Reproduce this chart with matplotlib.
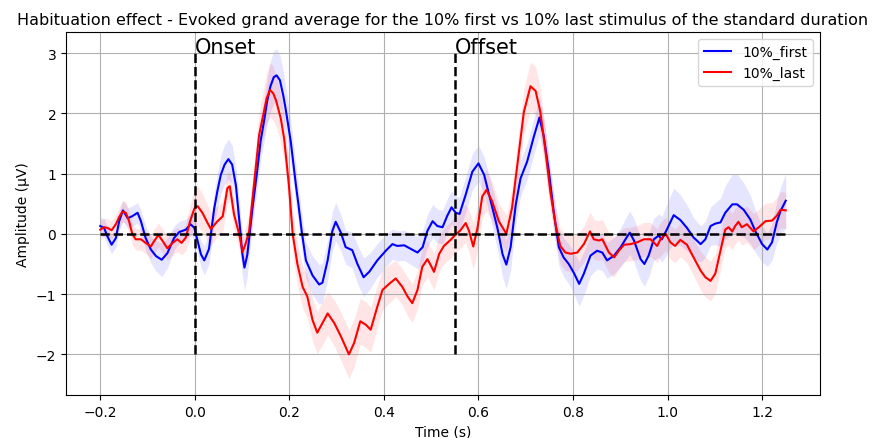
import matplotlib
matplotlib.use('Agg')
import matplotlib.pyplot as plt
import numpy as np

# grand average, 10% first stimuli (blue)
t_first = [-0.200, -0.192, -0.185, -0.176, -0.167, -0.160, -0.152, -0.142, -0.133, -0.121,
           -0.114, -0.104, -0.093, -0.082, -0.070, -0.058, -0.044, -0.033, -0.019, -0.009,
           -0.001, 0.006, 0.013, 0.020, 0.030, 0.041, 0.048, 0.055, 0.063, 0.071,
           0.079, 0.087, 0.095, 0.100, 0.105, 0.111, 0.116, 0.122, 0.126, 0.132,
           0.139, 0.146, 0.153, 0.160, 0.167, 0.173, 0.180, 0.187, 0.192, 0.203,
           0.208, 0.214, 0.219, 0.226, 0.235, 0.249, 0.263, 0.270, 0.281, 0.291,
           0.298, 0.309, 0.319, 0.333, 0.344, 0.357, 0.369, 0.386, 0.404, 0.418,
           0.428, 0.443, 0.457, 0.471, 0.482, 0.492, 0.503, 0.513, 0.524, 0.534,
           0.543, 0.552, 0.560, 0.573, 0.587, 0.600, 0.612, 0.626, 0.640, 0.651,
           0.659, 0.668, 0.679, 0.689, 0.703, 0.717, 0.729, 0.738, 0.749, 0.759,
           0.770, 0.780, 0.791, 0.802, 0.813, 0.823, 0.837, 0.851, 0.862, 0.872,
           0.887, 0.901, 0.911, 0.920, 0.929, 0.943, 0.951, 0.960, 0.971, 0.981,
           0.988, 0.999, 1.013, 1.027, 1.041, 1.055, 1.070, 1.080, 1.091, 1.101,
           1.112, 1.122, 1.137, 1.147, 1.161, 1.175, 1.186, 1.200, 1.211, 1.221,
           1.231, 1.239, 1.250]
first_mean = [0.13, 0.10, -0.04, -0.18, -0.07, 0.21, 0.39, 0.26, 0.29, 0.35,
              0.21, -0.07, -0.26, -0.37, -0.43, -0.32, -0.07, 0.03, 0.07, 0.16,
              0.10, -0.12, -0.34, -0.44, -0.25, 0.42, 0.72, 0.98, 1.15, 1.24,
              1.15, 0.80, 0.15, -0.30, -0.56, -0.35, 0.00, 0.43, 0.68, 1.05,
              1.53, 1.85, 2.20, 2.45, 2.60, 2.63, 2.55, 2.30, 2.08, 1.53,
              1.20, 0.80, 0.50, 0.05, -0.44, -0.69, -0.84, -0.81, -0.44, 0.05,
              0.20, 0.02, -0.22, -0.27, -0.50, -0.72, -0.63, -0.44, -0.28, -0.17,
              -0.20, -0.19, -0.25, -0.31, -0.22, 0.05, 0.21, 0.13, 0.11, 0.30,
              0.44, 0.35, 0.33, 0.65, 1.03, 1.17, 0.98, 0.54, 0.10, -0.34,
              -0.51, -0.22, 0.49, 0.92, 1.20, 1.61, 1.93, 1.63, 1.03, 0.38,
              -0.22, -0.39, -0.50, -0.65, -0.83, -0.66, -0.36, -0.28, -0.31, -0.44,
              -0.36, -0.22, -0.09, 0.02, -0.11, -0.42, -0.50, -0.36, -0.09, -0.03,
              -0.09, 0.08, 0.31, 0.23, 0.10, -0.06, -0.17, -0.09, 0.13, 0.17,
              0.19, 0.35, 0.49, 0.49, 0.40, 0.24, 0.04, -0.17, -0.26, -0.14,
              0.19, 0.38, 0.55]
first_sem = [0.15, 0.15, 0.15, 0.15, 0.15, 0.16, 0.17, 0.17, 0.17, 0.17,
             0.18, 0.20, 0.22, 0.25, 0.28, 0.25, 0.20, 0.18, 0.17, 0.18,
             0.20, 0.20, 0.22, 0.24, 0.25, 0.27, 0.30, 0.32, 0.33, 0.33,
             0.32, 0.30, 0.32, 0.35, 0.38, 0.35, 0.32, 0.30, 0.30, 0.30,
             0.32, 0.35, 0.38, 0.42, 0.44, 0.44, 0.42, 0.40, 0.38, 0.35,
             0.33, 0.32, 0.30, 0.30, 0.30, 0.32, 0.33, 0.33, 0.33, 0.33,
             0.32, 0.30, 0.28, 0.30, 0.32, 0.32, 0.30, 0.28, 0.27, 0.25,
             0.25, 0.25, 0.26, 0.27, 0.27, 0.27, 0.28, 0.28, 0.28, 0.28,
             0.28, 0.28, 0.28, 0.30, 0.30, 0.30, 0.30, 0.32, 0.35, 0.38,
             0.40, 0.38, 0.33, 0.30, 0.30, 0.30, 0.30, 0.30, 0.30, 0.30,
             0.30, 0.32, 0.33, 0.35, 0.37, 0.36, 0.33, 0.30, 0.30, 0.30,
             0.30, 0.32, 0.35, 0.36, 0.36, 0.36, 0.37, 0.36, 0.35, 0.36,
             0.38, 0.42, 0.45, 0.42, 0.38, 0.33, 0.30, 0.30, 0.32, 0.35,
             0.40, 0.45, 0.50, 0.50, 0.45, 0.40, 0.35, 0.30, 0.28, 0.30,
             0.35, 0.40, 0.45]

# grand average, 10% last stimuli (red)
t_last = [-0.200, -0.192, -0.185, -0.176, -0.167, -0.160, -0.153, -0.146, -0.139, -0.132,
          -0.125, -0.114, -0.104, -0.093, -0.086, -0.077, -0.068, -0.058, -0.047, -0.037,
          -0.028, -0.019, -0.010, -0.001, 0.006, 0.016, 0.027, 0.034, 0.048, 0.059,
          0.069, 0.074, 0.083, 0.094, 0.101, 0.108, 0.115, 0.125, 0.136, 0.146,
          0.152, 0.159, 0.166, 0.172, 0.182, 0.189, 0.199, 0.207, 0.217, 0.228,
          0.238, 0.249, 0.259, 0.270, 0.281, 0.295, 0.309, 0.326, 0.337, 0.350,
          0.362, 0.372, 0.386, 0.397, 0.411, 0.425, 0.439, 0.450, 0.460, 0.471,
          0.481, 0.492, 0.499, 0.506, 0.517, 0.527, 0.541, 0.552, 0.562, 0.573,
          0.580, 0.589, 0.598, 0.608, 0.617, 0.629, 0.643, 0.659, 0.671, 0.683,
          0.696, 0.710, 0.721, 0.731, 0.742, 0.752, 0.763, 0.773, 0.784, 0.795,
          0.809, 0.823, 0.836, 0.844, 0.855, 0.862, 0.876, 0.887, 0.897, 0.908,
          0.922, 0.936, 0.950, 0.964, 0.978, 0.985, 0.996, 1.006, 1.016, 1.027,
          1.041, 1.055, 1.070, 1.080, 1.091, 1.101, 1.112, 1.122, 1.129, 1.137,
          1.143, 1.150, 1.157, 1.168, 1.182, 1.196, 1.207, 1.221, 1.231, 1.239,
          1.250]
last_mean = [0.07, 0.11, 0.10, 0.06, 0.16, 0.28, 0.37, 0.35, 0.21, -0.01,
             -0.09, -0.09, -0.15, -0.21, -0.12, -0.02, -0.12, -0.24, -0.15, -0.09,
             -0.15, -0.06, 0.21, 0.42, 0.46, 0.35, 0.18, 0.08, 0.21, 0.29,
             0.76, 0.79, 0.32, -0.01, -0.30, -0.15, 0.05, 0.80, 1.64, 2.02,
             2.25, 2.39, 2.33, 2.21, 1.91, 1.58, 0.81, 0.00, -0.50, -0.88,
             -1.04, -1.43, -1.64, -1.48, -1.32, -1.48, -1.70, -2.00, -1.81, -1.45,
             -1.51, -1.59, -1.21, -0.93, -0.83, -0.74, -0.88, -1.04, -1.15, -0.93,
             -0.55, -0.42, -0.52, -0.63, -0.33, -0.20, -0.10, -0.01, 0.06, 0.18,
             0.05, -0.21, 0.10, 0.62, 0.73, 0.54, 0.21, 0.00, 0.43, 1.20,
             2.02, 2.45, 2.37, 2.02, 1.36, 0.70, 0.16, -0.20, -0.31, -0.33,
             -0.31, -0.17, 0.04, -0.09, -0.11, -0.09, -0.31, -0.39, -0.28, -0.18,
             -0.17, -0.14, -0.09, -0.09, -0.20, -0.09, 0.00, -0.14, -0.20, -0.10,
             -0.18, -0.39, -0.61, -0.72, -0.78, -0.66, -0.28, 0.07, 0.11, 0.04,
             0.13, 0.20, 0.11, 0.16, 0.04, 0.13, 0.21, 0.22, 0.30, 0.40,
             0.39]
last_sem = [0.15, 0.15, 0.15, 0.15, 0.16, 0.17, 0.18, 0.18, 0.18, 0.18,
            0.18, 0.18, 0.18, 0.20, 0.20, 0.20, 0.20, 0.20, 0.20, 0.20,
            0.20, 0.22, 0.27, 0.32, 0.33, 0.32, 0.30, 0.28, 0.25, 0.25,
            0.25, 0.25, 0.25, 0.25, 0.25, 0.28, 0.30, 0.33, 0.38, 0.40,
            0.42, 0.45, 0.45, 0.42, 0.40, 0.38, 0.35, 0.35, 0.35, 0.35,
            0.35, 0.35, 0.35, 0.36, 0.36, 0.38, 0.40, 0.40, 0.40, 0.38,
            0.38, 0.37, 0.35, 0.33, 0.32, 0.30, 0.30, 0.32, 0.32, 0.32,
            0.30, 0.30, 0.30, 0.30, 0.30, 0.30, 0.30, 0.30, 0.30, 0.32,
            0.35, 0.38, 0.38, 0.35, 0.35, 0.33, 0.30, 0.30, 0.32, 0.35,
            0.38, 0.40, 0.40, 0.38, 0.35, 0.32, 0.30, 0.30, 0.30, 0.30,
            0.30, 0.30, 0.32, 0.33, 0.33, 0.33, 0.33, 0.33, 0.30, 0.28,
            0.28, 0.28, 0.28, 0.28, 0.28, 0.28, 0.28, 0.28, 0.28, 0.28,
            0.30, 0.30, 0.32, 0.33, 0.33, 0.33, 0.32, 0.30, 0.30, 0.30,
            0.30, 0.30, 0.30, 0.30, 0.30, 0.30, 0.30, 0.30, 0.30, 0.30,
            0.30]

onset = 0.0
offset = 0.55

assert len(t_first) == len(first_mean) == len(first_sem)
assert len(t_last) == len(last_mean) == len(last_sem)

t1 = np.array(t_first)
m1 = np.array(first_mean)
s1 = np.array(first_sem)
t2 = np.array(t_last)
m2 = np.array(last_mean)
s2 = np.array(last_sem)

fig = plt.figure(figsize=(8.73, 4.39), dpi=100)
ax = fig.add_axes([0.0756, 0.098, 0.8637, 0.826])

ax.plot(t1, m1, color='b', lw=1.5, label='10%_first')
ax.fill_between(t1, m1 - s1, m1 + s1, color='b', alpha=0.1, lw=0)
ax.plot(t2, m2, color='r', lw=1.5, label='10%_last')
ax.fill_between(t2, m2 - s2, m2 + s2, color='r', alpha=0.1, lw=0)

ax.vlines([onset, offset], -2, 3, colors='k', linestyles='--', lw=1.8)
ax.hlines(0, t1[0], t1[-1], colors='k', linestyles='--', lw=1.8)
ax.text(onset, 3, 'Onset', fontsize=15)
ax.text(offset, 3, 'Offset', fontsize=15)

ax.grid(True)
ax.set_xlabel('Time (s)')
ax.set_ylabel('Amplitude (µV)')
ax.set_title('Habituation effect - Evoked grand average for the 10% first vs 10% last stimulus of the standard duration',
             fontsize=11.5)
ax.legend(loc='upper right')

plt.savefig('out.png', dpi=100)
